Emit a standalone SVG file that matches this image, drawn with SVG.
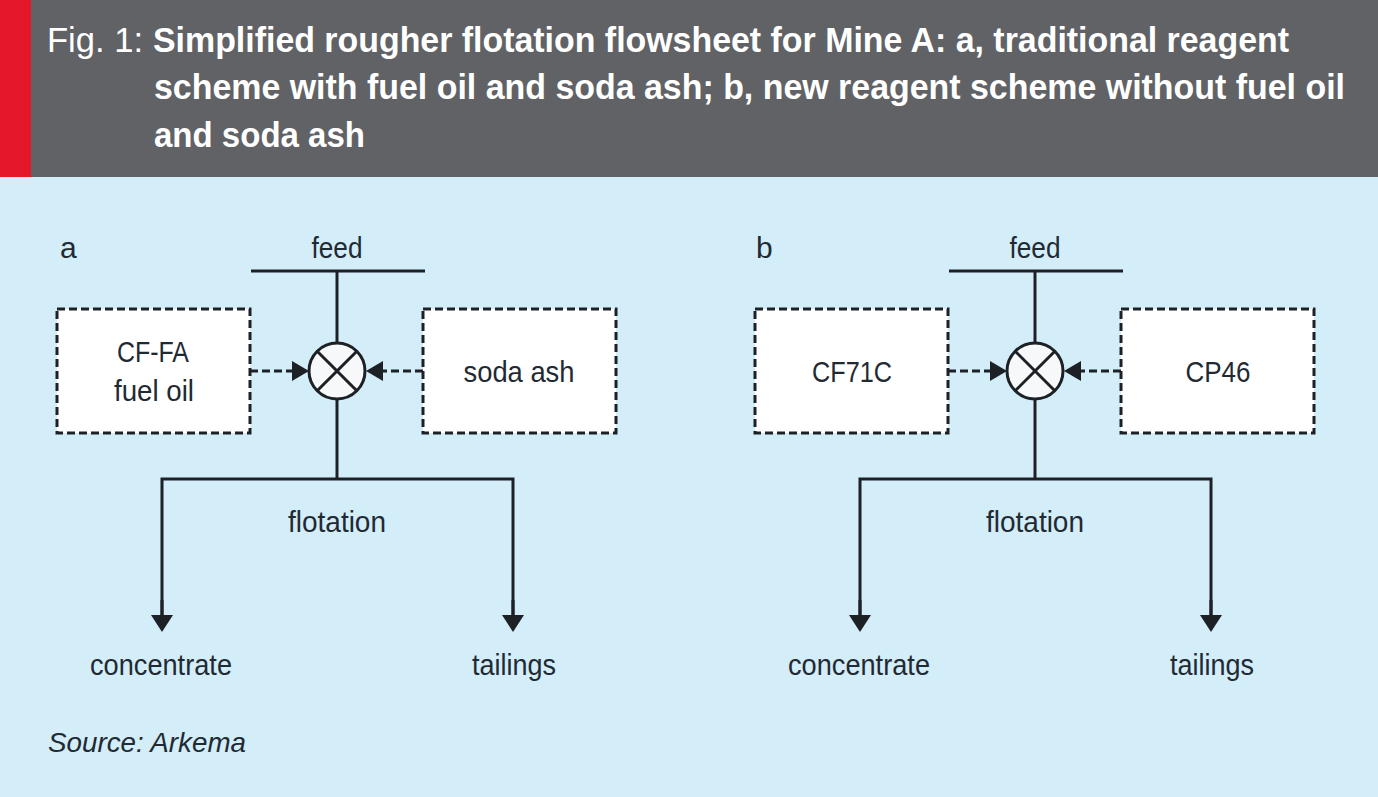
<svg xmlns="http://www.w3.org/2000/svg" width="1378" height="797" viewBox="0 0 1378 797">
<style>
.t{font-family:"Liberation Sans",Arial,sans-serif;fill:#1f2a33;font-size:30px;}
.h{font-family:"Liberation Sans",Arial,sans-serif;fill:#ffffff;font-size:35px;font-weight:bold;}
.ln{stroke:#1d2126;stroke-width:3;fill:none;}
.dl{stroke:#1d2126;stroke-width:3;fill:none;stroke-dasharray:8 4;}
.bx{fill:#ffffff;stroke:#1d2126;stroke-width:3;stroke-dasharray:8 4;}
.mx{fill:#f6f8f9;stroke:#1d2126;stroke-width:3;}
</style>
<defs>
<marker id="arr" viewBox="0 0 17 20" refX="12" refY="10" markerWidth="17" markerHeight="20" markerUnits="userSpaceOnUse" orient="auto">
<path d="M0,0 L17,10 L0,20 z" fill="#1d2126"/>
</marker>
<marker id="arrD" viewBox="0 0 17 22" refX="12" refY="11" markerWidth="17" markerHeight="22" markerUnits="userSpaceOnUse" orient="auto">
<path d="M0,0 L17,11 L0,22 z" fill="#1d2126"/>
</marker>
</defs>
<rect x="0" y="0" width="1378" height="797" fill="#d3edf9"/>
<g id="header">
<rect x="0" y="0" width="1378" height="177" fill="#616266"/>
<rect x="0" y="0" width="31" height="177" fill="#e4172b"/>
<text x="47" y="52" style="font-family:'Liberation Sans',Arial,sans-serif;font-size:35px;fill:#ffffff" textLength="96" lengthAdjust="spacingAndGlyphs">Fig. 1:</text>
<text class="h" x="153" y="52" textLength="1136" lengthAdjust="spacingAndGlyphs">Simplified rougher flotation flowsheet for Mine A: a, traditional reagent</text>
<text class="h" x="154" y="99" textLength="1191" lengthAdjust="spacingAndGlyphs">scheme with fuel oil and soda ash; b, new reagent scheme without fuel oil</text>
<text class="h" x="154" y="147" textLength="211" lengthAdjust="spacingAndGlyphs">and soda ash</text>
</g>
<g id="connectors">
<!-- a -->
<line class="ln" x1="251" y1="271" x2="425" y2="271"/>
<line class="ln" x1="337" y1="271" x2="337" y2="343"/>
<line class="dl" x1="250" y1="371" x2="304" y2="371" marker-end="url(#arr)"/>
<line class="dl" x1="423" y1="371" x2="371" y2="371" marker-end="url(#arr)"/>
<line class="ln" x1="337" y1="399" x2="337" y2="479"/>
<polyline class="ln" points="162,627 162,479 513,479 513,627"/>
<line class="ln" x1="162" y1="600" x2="162" y2="627" marker-end="url(#arrD)"/>
<line class="ln" x1="513" y1="600" x2="513" y2="627" marker-end="url(#arrD)"/>
<!-- b -->
<line class="ln" x1="949" y1="271" x2="1123" y2="271"/>
<line class="ln" x1="1035" y1="271" x2="1035" y2="343"/>
<line class="dl" x1="948" y1="371" x2="1002" y2="371" marker-end="url(#arr)"/>
<line class="dl" x1="1121" y1="371" x2="1069" y2="371" marker-end="url(#arr)"/>
<line class="ln" x1="1035" y1="399" x2="1035" y2="479"/>
<polyline class="ln" points="860,627 860,479 1211,479 1211,627"/>
<line class="ln" x1="860" y1="600" x2="860" y2="627" marker-end="url(#arrD)"/>
<line class="ln" x1="1211" y1="600" x2="1211" y2="627" marker-end="url(#arrD)"/>
</g>
<g id="labels-a">
<text class="t" x="60" y="258">a</text>
<text class="t" x="337" y="258" text-anchor="middle" textLength="51" lengthAdjust="spacingAndGlyphs">feed</text>
<text class="t" x="337" y="532" text-anchor="middle" textLength="98" lengthAdjust="spacingAndGlyphs">flotation</text>
</g>
<g id="node-a-cffa">
<rect class="bx" x="57" y="309" width="193" height="124"/>
<text class="t" x="153" y="362" text-anchor="middle" textLength="72" lengthAdjust="spacingAndGlyphs">CF-FA</text>
<text class="t" x="154" y="401" text-anchor="middle" textLength="80" lengthAdjust="spacingAndGlyphs">fuel oil</text>
</g>
<g id="node-a-soda">
<rect class="bx" x="423" y="309" width="193" height="124"/>
<text class="t" x="519" y="382" text-anchor="middle" textLength="111" lengthAdjust="spacingAndGlyphs">soda ash</text>
</g>
<g id="node-a-mixer">
<circle class="mx" cx="337" cy="371" r="28"/>
<line class="ln" x1="317.2" y1="351.2" x2="356.8" y2="390.8"/>
<line class="ln" x1="356.8" y1="351.2" x2="317.2" y2="390.8"/>
</g>
<g id="node-a-concentrate">
<text class="t" x="161" y="675" text-anchor="middle" textLength="142" lengthAdjust="spacingAndGlyphs">concentrate</text>
</g>
<g id="node-a-tailings">
<text class="t" x="514" y="675" text-anchor="middle" textLength="84" lengthAdjust="spacingAndGlyphs">tailings</text>
</g>
<g id="labels-b">
<text class="t" x="756" y="258">b</text>
<text class="t" x="1035" y="258" text-anchor="middle" textLength="51" lengthAdjust="spacingAndGlyphs">feed</text>
<text class="t" x="1035" y="532" text-anchor="middle" textLength="98" lengthAdjust="spacingAndGlyphs">flotation</text>
</g>
<g id="node-b-cf71c">
<rect class="bx" x="755" y="309" width="193" height="124"/>
<text class="t" x="852" y="382" text-anchor="middle" textLength="80" lengthAdjust="spacingAndGlyphs">CF71C</text>
</g>
<g id="node-b-cp46">
<rect class="bx" x="1121" y="309" width="193" height="124"/>
<text class="t" x="1218" y="382" text-anchor="middle" textLength="65" lengthAdjust="spacingAndGlyphs">CP46</text>
</g>
<g id="node-b-mixer">
<circle class="mx" cx="1035" cy="371" r="28"/>
<line class="ln" x1="1015.2" y1="351.2" x2="1054.8" y2="390.8"/>
<line class="ln" x1="1054.8" y1="351.2" x2="1015.2" y2="390.8"/>
</g>
<g id="node-b-concentrate">
<text class="t" x="859" y="675" text-anchor="middle" textLength="142" lengthAdjust="spacingAndGlyphs">concentrate</text>
</g>
<g id="node-b-tailings">
<text class="t" x="1212" y="675" text-anchor="middle" textLength="84" lengthAdjust="spacingAndGlyphs">tailings</text>
</g>
<g id="source">
<text x="48" y="752" style="font-family:'Liberation Sans',Arial,sans-serif;font-style:italic;font-size:28px;fill:#1f2a33" textLength="198" lengthAdjust="spacingAndGlyphs">Source: Arkema</text>
</g>
</svg>
